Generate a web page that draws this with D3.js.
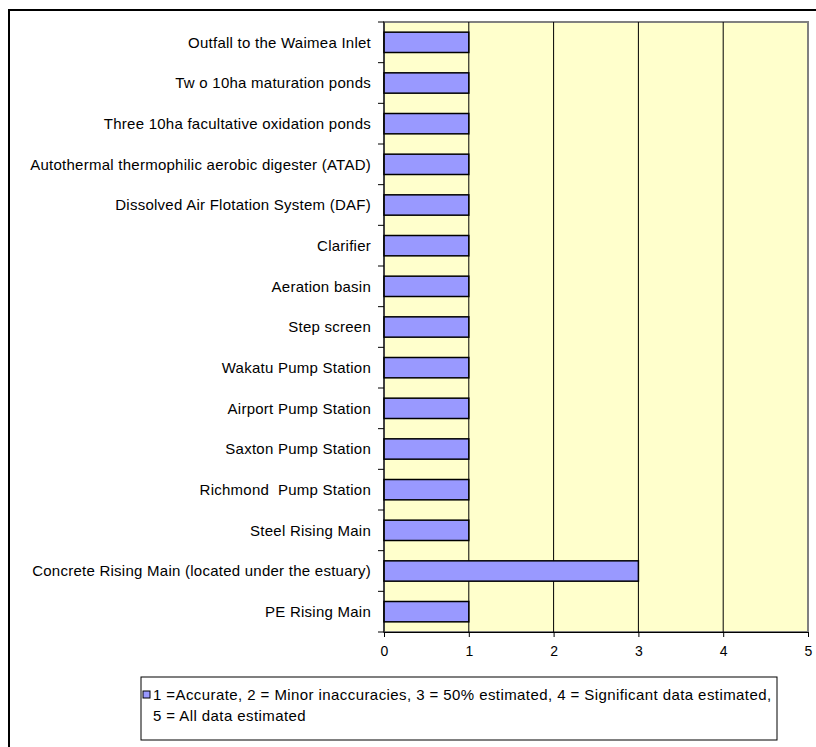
<!DOCTYPE html>
<html>
<head>
<meta charset="utf-8">
<script src="https://cdn.jsdelivr.net/npm/d3@7"></script>
<style>
  html, body { margin: 0; padding: 0; background: #fff; }
  svg { display: block; }
  text { font-family: "Liberation Sans", Arial, sans-serif; fill: #000; white-space: pre; }
</style>
</head>
<body>
<svg id="chart" width="816" height="747"></svg>
<script>
const categories = [
  "Outfall to the Waimea Inlet",
  "Tw o 10ha maturation ponds",
  "Three 10ha facultative oxidation ponds",
  "Autothermal thermophilic aerobic digester (ATAD)",
  "Dissolved Air Flotation System (DAF)",
  "Clarifier",
  "Aeration basin",
  "Step screen",
  "Wakatu Pump Station",
  "Airport Pump Station",
  "Saxton Pump Station",
  "Richmond  Pump Station",
  "Steel Rising Main",
  "Concrete Rising Main (located under the estuary)",
  "PE Rising Main"
];
const values = [1, 1, 1, 1, 1, 1, 1, 1, 1, 1, 1, 1, 1, 3, 1];
const xTicks = [0, 1, 2, 3, 4, 5];
const legendLines = [
  "1 =Accurate, 2 = Minor inaccuracies, 3 = 50% estimated, 4 = Significant data estimated,",
  "5 = All data estimated"
];

const svg = d3.select("#chart");
const plot = { left: 384, right: 808, top: 22, bottom: 632 };

// outer chart border
svg.append("rect").attr("x", 9).attr("y", 10).attr("width", 900).attr("height", 900)
  .attr("fill", "#fff").attr("stroke", "#000").attr("stroke-width", 2);

const x = d3.scaleLinear().domain([0, 5]).range([plot.left, plot.right]);
const y = d3.scaleBand().domain(categories).range([plot.top, plot.bottom]).paddingInner(0.5).paddingOuter(0.25);
const yBand = d3.scaleBand().domain(categories).range([plot.top, plot.bottom]);

// plot background
svg.append("rect").attr("x", plot.left).attr("y", plot.top)
  .attr("width", plot.right - plot.left).attr("height", plot.bottom - plot.top)
  .attr("fill", "#FFFFCC").attr("stroke", "#808080").attr("stroke-width", 2);

// vertical gridlines
svg.append("g").selectAll("line").data(xTicks.filter(d => d > 0 && d < 5)).join("line")
  .attr("x1", d => x(d)).attr("x2", d => x(d))
  .attr("y1", plot.top).attr("y2", plot.bottom)
  .attr("stroke", "#000").attr("stroke-width", 1);

// bars
svg.append("g").selectAll("rect").data(categories).join("rect")
  .attr("x", x(0))
  .attr("y", d => y(d))
  .attr("width", (d, i) => x(values[i]) - x(0))
  .attr("height", y.bandwidth())
  .attr("fill", "#9999FF").attr("stroke", "#000").attr("stroke-width", 1.5);

// y axis
const yAxisG = svg.append("g").attr("transform", `translate(${plot.left},0)`);
yAxisG.append("line").attr("x1", 0).attr("x2", 0).attr("y1", plot.top).attr("y2", plot.bottom)
  .attr("stroke", "#000").attr("stroke-width", 1);
const bounds = categories.map(c => yBand(c)).concat([plot.bottom]);
yAxisG.selectAll("line.tick").data(bounds).join("line").attr("class", "tick")
  .attr("x1", -6).attr("x2", 0).attr("y1", d => d).attr("y2", d => d)
  .attr("stroke", "#000").attr("stroke-width", 1);
yAxisG.selectAll("text").data(categories).join("text")
  .attr("x", -13)
  .attr("y", d => yBand(d) + yBand.bandwidth() / 2)
  .attr("dy", "0.35em")
  .attr("text-anchor", "end")
  .attr("font-size", "15px")
  .attr("letter-spacing", "0.25px")
  .text(d => d);

// x axis
const xAxis = d3.axisBottom(x).tickValues(xTicks).tickSize(5).tickPadding(9).tickFormat(d3.format("d"));
const xAxisG = svg.append("g").attr("transform", `translate(0,${plot.bottom})`).call(xAxis);
xAxisG.select(".domain").attr("stroke", "#000").attr("stroke-width", 1);
xAxisG.selectAll(".tick line").attr("stroke", "#000");
xAxisG.selectAll(".tick text").attr("font-size", "14px")
  .attr("font-family", "Liberation Sans, Arial, sans-serif").attr("fill", "#000");

// legend
const lg = svg.append("g");
lg.append("rect").attr("x", 141).attr("y", 677).attr("width", 636).attr("height", 63)
  .attr("fill", "#fff").attr("stroke", "#000").attr("stroke-width", 1);
lg.append("rect").attr("x", 143).attr("y", 691).attr("width", 7).attr("height", 7)
  .attr("fill", "#9999FF").attr("stroke", "#000").attr("stroke-width", 1);
lg.selectAll("text").data(legendLines).join("text")
  .attr("x", 153)
  .attr("y", (d, i) => 700 + i * 21)
  .attr("font-size", "15px")
  .attr("letter-spacing", "0.42px")
  .text(d => d);
</script>
</body>
</html>
